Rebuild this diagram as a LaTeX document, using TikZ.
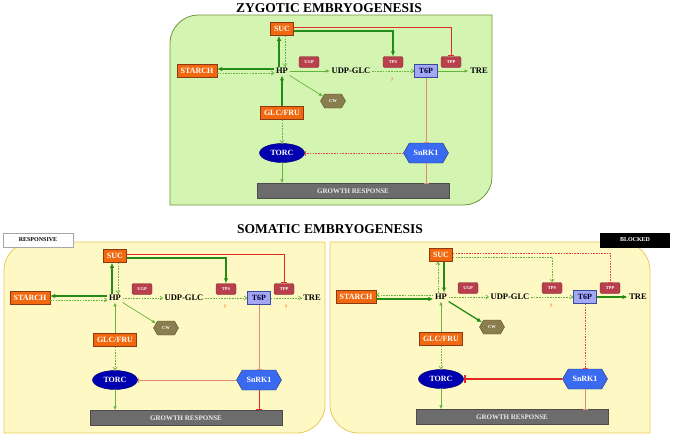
\documentclass[tikz,border=0pt]{standalone}
\usepackage{fontspec}
\setmainfont{Liberation Serif}
\usetikzlibrary{arrows.meta,shapes.geometric,shapes.symbols}

\definecolor{sugarfill}{RGB}{242,104,14}
\definecolor{sugarline}{RGB}{140,58,20}
\definecolor{enzfill}{RGB}{184,64,76}
\definecolor{enzline}{RGB}{130,40,48}
\definecolor{tsixfill}{RGB}{164,168,244}
\definecolor{tsixline}{RGB}{58,74,154}
\definecolor{cwfill}{RGB}{138,126,78}
\definecolor{torcfill}{RGB}{0,0,176}
\definecolor{snrkfill}{RGB}{58,106,240}
\definecolor{grfill}{RGB}{108,108,108}
\definecolor{darkgreen}{RGB}{36,140,22}
\definecolor{lightgreen}{RGB}{100,180,60}
\definecolor{inhibred}{RGB}{228,40,36}
\definecolor{salmon}{RGB}{226,138,116}
\definecolor{zygfill}{RGB}{212,245,178}
\definecolor{zygline}{RGB}{110,150,60}
\definecolor{somfill}{RGB}{253,248,196}
\definecolor{somline}{RGB}{236,200,90}

\tikzset{
  sugar/.style={draw=sugarline, fill=sugarfill, text=white, line width=0.6pt,
    font=\fontsize{8}{9}\selectfont\bfseries, inner xsep=3.5pt, minimum height=13pt},
  enzyme/.style={draw=enzline, fill=enzfill, text=white, rounded corners=2pt,
    font=\fontsize{4.5}{5}\selectfont\bfseries, minimum width=20pt, minimum height=11pt, inner sep=1pt},
  tsix/.style={draw=tsixline, fill=tsixfill, text=black!80!blue, line width=0.6pt,
    font=\fontsize{8}{9}\selectfont\bfseries, minimum width=23pt, minimum height=13pt, inner sep=1pt},
  metab/.style={font=\fontsize{8.5}{9}\selectfont\bfseries, inner sep=1.5pt},
  wall/.style={shape=signal, signal to=west and east, signal pointer angle=120,
    draw=cwfill!60!black, fill=cwfill, text=white, font=\fontsize{4.5}{5}\selectfont\bfseries,
    minimum width=25pt, minimum height=14pt, inner sep=1pt},
  torcnode/.style={ellipse, draw=torcfill!60!black, fill=torcfill, text=white,
    font=\fontsize{8}{9}\selectfont\bfseries, minimum width=45pt, minimum height=19pt, inner sep=0pt},
  kinase/.style={shape=signal, signal to=west and east, signal pointer angle=120,
    draw=snrkfill!50!black, fill=snrkfill, text=white, font=\fontsize{8}{9}\selectfont\bfseries,
    minimum width=45pt, minimum height=20pt, inner sep=1pt},
  growth/.style={draw=black!70, fill=grfill, text=white!92!black,
    font=\fontsize{7}{8}\selectfont\bfseries, minimum width=192pt, minimum height=15pt},
  qmark/.style={text=orange!80!red, font=\fontsize{5}{6}\selectfont\bfseries, inner sep=0pt},
  title/.style={font=\fontsize{13.5}{15}\selectfont\bfseries},
  flowstrong/.style={draw=darkgreen, line width=1.3pt, -{Latex[length=5pt,width=4.5pt]}},
  flowweak/.style={draw=lightgreen, line width=0.7pt, -{Latex[length=4pt,width=3.5pt]}},
  flowdashed/.style={draw=lightgreen, line width=0.7pt, dash pattern=on 1.6pt off 1.1pt,
    -{Straight Barb[length=2.5pt,width=4pt]}},
  blockstrong/.style={draw=inhibred, line width=1.9pt, -{Bar[width=8pt,line width=1.9pt]}},
  blockmid/.style={draw=inhibred, line width=1pt, -{Bar[width=6pt]}},
  blockweak/.style={draw=salmon, line width=0.8pt, -{Bar[width=5pt]}},
  blockdashed/.style={draw=inhibred!85, line width=0.7pt, dash pattern=on 1.6pt off 1.1pt, -{Bar[width=5pt]}},
}

% one pathway, #1 = name prefix, #2 = position of HP
\newcommand{\pathway}[2]{%
  \begin{scope}[shift={#2}]
    \node[metab] (#1hp) at (0,0) {HP};
    \node[sugar] (#1suc) at (0,-42) {SUC};
    \node[sugar] (#1starch) at (-85,0) {STARCH};
    \node[enzyme] (#1ugp) at (27,-9) {UGP};
    \node[metab] (#1udp) at (69,0) {UDP-GLC};
    \node[enzyme] (#1tps) at (111,-9) {TPS};
    \node[tsix] (#1tsix) at (144,0) {T6P};
    \node[enzyme] (#1tpp) at (169,-9) {TPP};
    \node[metab] (#1tre) at (197,0) {TRE};
    \node[wall] (#1cw) at (51,30) {CW};
    \node[sugar] (#1glc) at (0,42) {GLC/FRU};
    \node[torcnode] (#1torc) at (0,82) {TORC};
    \node[kinase] (#1snrk) at (144,82) {SnRK1};
    \node[growth] (#1gr) at (71,120) {GROWTH RESPONSE};
    \node[qmark] (#1q) at (110,9) {?};
  \end{scope}}

\begin{document}
\begin{tikzpicture}[x=1pt, y=-1pt]
  \useasboundingbox (0,0) rectangle (675,439);

  % Panels
  \draw[fill=zygfill, draw=zygline, line width=0.8pt] (170,205) -- (170,43)
    .. controls (170,28) and (183,15) .. (198,15) -- (492,15) -- (492,177)
    .. controls (492,192) and (479,205) .. (464,205) -- cycle;
  \draw[fill=somfill, draw=somline, line width=0.8pt] (4,433) -- (4,270)
    .. controls (4,255) and (17,242) .. (32,242) -- (325,242) -- (325,405)
    .. controls (325,420) and (312,433) .. (297,433) -- cycle;
  \draw[fill=somfill, draw=somline, line width=0.8pt] (358,433)
    .. controls (343,433) and (330,420) .. (330,405) -- (330,242) -- (622,242)
    .. controls (637,242) and (650,255) .. (650,270) -- (650,433) -- cycle;

  % Titles
  \node[title] (zygtitle) at (329,8) {ZYGOTIC EMBRYOGENESIS};
  \node[title] (somtitle) at (330,229) {SOMATIC EMBRYOGENESIS};
  \node[draw=black!35, fill=white, line width=0.8pt, font=\fontsize{6}{7}\selectfont\bfseries,
    minimum width=70pt, minimum height=14pt] (resp) at (38,240) {RESPONSIVE};
  \node[draw=black, fill=black, text=white, font=\fontsize{6}{7}\selectfont\bfseries,
    minimum width=69pt, minimum height=14pt] (blocked) at (635,240) {BLOCKED};

  % Pathways
  \pathway{z-}{(282,71)}
  \pathway{r-}{(115,298)}
  \pathway{b-}{(441,297)}
  \node[qmark] (r-q2) at (286,307) {?};

  % Zygotic connectors
  \draw[flowstrong] ([xshift=-3pt]z-hp.north) -- ([xshift=-3pt]z-suc.south);
  \draw[flowdashed] ([xshift=3pt]z-suc.south) -- ([xshift=3pt]z-hp.north);
  \draw[flowstrong] ([yshift=2pt]z-hp.west) -- ([yshift=2pt]z-starch.east);
  \draw[flowdashed] ([yshift=-2pt]z-starch.east) -- ([yshift=-2pt]z-hp.west);
  \draw[flowweak] (z-hp.east) -- (z-udp.west);
  \draw[flowdashed] (z-udp.east) -- (z-tsix.west);
  \draw[flowweak] (z-tsix.east) -- (z-tre.west);
  \draw[flowstrong] ([yshift=-2pt]z-suc.east) -| (z-tps.north);
  \draw[blockmid] ([yshift=2pt]z-suc.east) -| (z-tpp.north);
  \draw[flowweak] (z-hp.south east) -- (z-cw.155);
  \draw[flowstrong] (z-glc.north) -- (z-hp.south);
  \draw[flowdashed] (z-glc.south) -- (z-torc.north);
  \draw[flowweak] (z-torc.south) -- (z-torc.south |- z-gr.north);
  \draw[blockdashed] (z-snrk.west) -- (z-torc.east);
  \draw[blockweak] (z-tsix.south) -- (z-tsix.south |- z-snrk.north);
  \draw[blockweak] (z-snrk.south) -- (z-snrk.south |- z-gr.north);

  % Responsive connectors
  \draw[flowstrong] ([xshift=-3pt]r-hp.north) -- ([xshift=-3pt]r-suc.south);
  \draw[flowdashed] ([xshift=3pt]r-suc.south) -- ([xshift=3pt]r-hp.north);
  \draw[flowstrong] ([yshift=2pt]r-hp.west) -- ([yshift=2pt]r-starch.east);
  \draw[flowdashed] ([yshift=-2pt]r-starch.east) -- ([yshift=-2pt]r-hp.west);
  \draw[flowdashed] (r-hp.east) -- (r-udp.west);
  \draw[flowdashed] (r-udp.east) -- (r-tsix.west);
  \draw[flowdashed] (r-tsix.east) -- (r-tre.west);
  \draw[flowstrong] ([yshift=-2pt]r-suc.east) -| (r-tps.north);
  \draw[blockmid] ([yshift=2pt]r-suc.east) -| (r-tpp.north);
  \draw[flowweak] (r-hp.south east) -- (r-cw.155);
  \draw[flowweak] (r-glc.north) -- (r-hp.south);
  \draw[flowdashed] (r-glc.south) -- (r-torc.north);
  \draw[flowweak] (r-torc.south) -- (r-torc.south |- r-gr.north);
  \draw[blockweak] (r-snrk.west) -- (r-torc.east);
  \draw[blockweak] (r-tsix.south) -- (r-tsix.south |- r-snrk.north);
  \draw[blockmid] (r-snrk.south) -- (r-snrk.south |- r-gr.north);

  % Blocked connectors
  \draw[flowdashed] ([xshift=-3pt]b-hp.north) -- ([xshift=-3pt]b-suc.south);
  \draw[flowstrong] ([xshift=3pt]b-suc.south) -- ([xshift=3pt]b-hp.north);
  \draw[flowdashed] ([yshift=2pt]b-hp.west) -- ([yshift=2pt]b-starch.east);
  \draw[flowstrong] ([yshift=-2pt]b-starch.east) -- ([yshift=-2pt]b-hp.west);
  \draw[flowdashed] (b-hp.east) -- (b-udp.west);
  \draw[flowdashed] (b-udp.east) -- (b-tsix.west);
  \draw[flowstrong] (b-tsix.east) -- (b-tre.west);
  \draw[flowdashed] ([yshift=-2pt]b-suc.east) -| (b-tps.north);
  \draw[blockdashed] ([yshift=2pt]b-suc.east) -| (b-tpp.north);
  \draw[flowstrong] (b-hp.south east) -- (b-cw.155);
  \draw[flowweak] (b-glc.north) -- (b-hp.south);
  \draw[flowdashed] (b-glc.south) -- (b-torc.north);
  \draw[flowweak] (b-torc.south) -- (b-torc.south |- b-gr.north);
  \draw[blockstrong] (b-snrk.west) -- (b-torc.east);
  \draw[blockdashed] (b-tsix.south) -- (b-tsix.south |- b-snrk.north);
  \draw[blockweak] (b-snrk.south) -- (b-snrk.south |- b-gr.north);
\end{tikzpicture}
\end{document}
